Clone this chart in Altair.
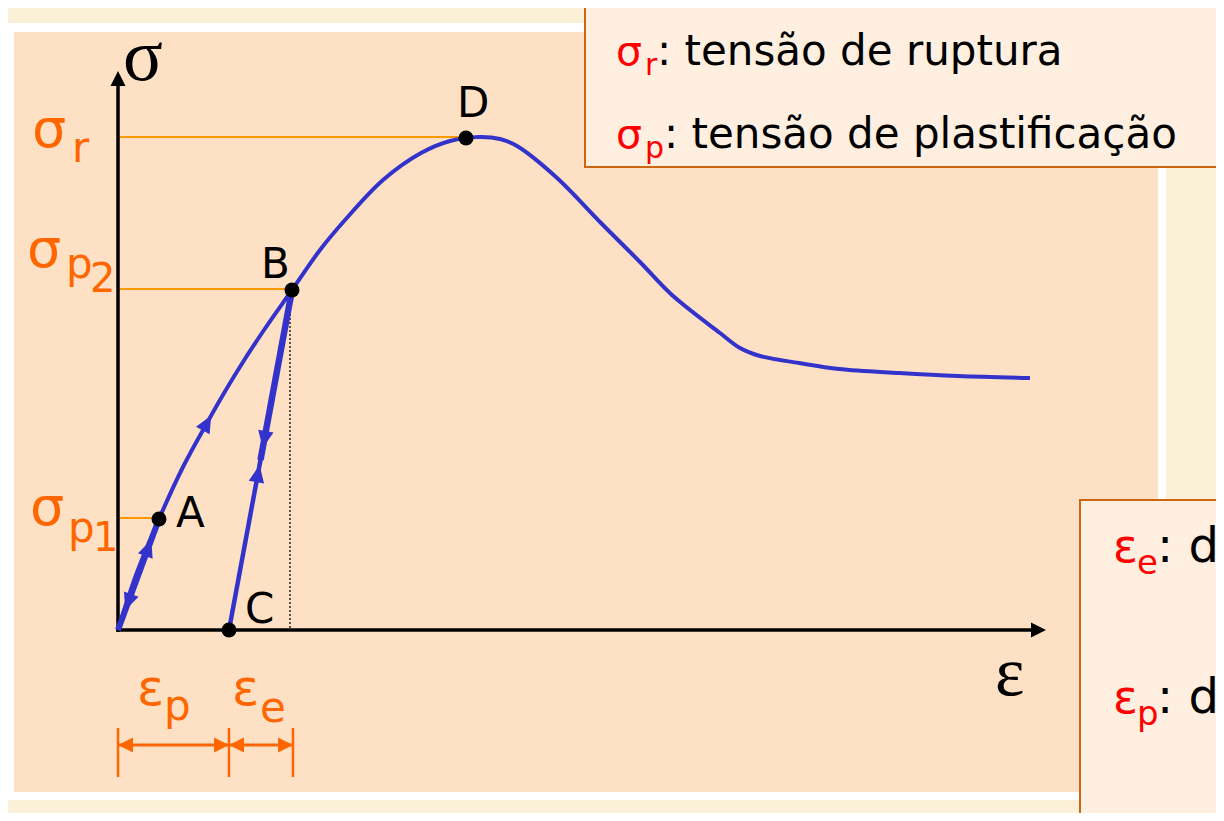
import math
import altair as alt
import pandas as pd

# ---------------- values (diagram units: strain ε, stress σ) ----------------
CURVE_EPS = [0.00, 0.18, 0.41, 0.65, 0.89, 1.02, 1.20, 1.46, 1.74, 2.02, 2.27, 2.65,
             3.03, 3.32, 3.61, 3.82, 3.99, 4.38, 4.83, 5.22, 5.54, 6.02, 6.22, 6.42,
             6.81, 7.21, 7.81, 8.40, 9.12]
CURVE_SIG = [0.00, 0.55, 1.11, 1.63, 2.07, 2.30, 2.60, 3.00, 3.40, 3.80, 4.10, 4.50,
             4.77, 4.89, 4.93, 4.91, 4.84, 4.53, 4.07, 3.68, 3.35, 2.97, 2.82, 2.74,
             2.67, 2.61, 2.57, 2.54, 2.52]

POINT_NAMES = ["A", "B", "C", "D"]
POINT_EPS = [0.41, 1.74, 1.11, 3.48]
POINT_SIG = [1.11, 3.40, 0.00, 4.92]

SIGMA_NAMES = ["r", "p2", "p1"]
SIGMA_LEVELS = [4.93, 3.41, 1.12]
SIGMA_MEETS = ["D", "B", "A"]

STRAIN_NAMES = ["p", "e"]
STRAIN_FROM = [0.00, 1.11]
STRAIN_TO = [1.11, 1.75]

EPS_AXIS_END = 9.28
SIG_AXIS_END = 5.59

TOP_SYMBOLS = ["σ", "σ"]
TOP_SUBS = ["r", "p"]
TOP_TEXTS = [": tensão de ruptura", ": tensão de plastificação"]
BOT_SYMBOLS = ["ε", "ε"]
BOT_SUBS = ["e", "p"]
BOT_TEXTS = [": deformação elástica", ": deformação plástica"]

OA_ARROWS = [(0.25, "down"), (0.74, "up")]      # fraction from O toward A
BC_ARROWS = [(0.56, "down"), (0.46, "up")]      # fraction from C toward B
AB_ARROW_INDEX = 4

# ---------------- layout / style ----------------
W, H = 1208, 805
X_DOM = [-1.10, 10.98]
Y_DOM = [-1.83, 6.22]
PX = (X_DOM[1] - X_DOM[0]) / W
PY = (Y_DOM[1] - Y_DOM[0]) / H

BLUE = "#3333CC"
ORANGE = "#FF6600"
GUIDE = "#FF9900"
RED = "#FF0000"
BORDER = "#CC6611"
SANS = "DejaVu Sans"
SERIF = "Liberation Serif"

xs = alt.Scale(domain=X_DOM, nice=False, zero=False)
ys = alt.Scale(domain=Y_DOM, nice=False, zero=False)


def at(e, s, dx=0.0, dy=0.0):
    return e + dx * PX, s - dy * PY


def page(px, py):
    return X_DOM[0] + (px - 8) * PX, Y_DOM[1] - (py - 8) * PY


def lerp(p, q, t):
    return (p[0] + (q[0] - p[0]) * t, p[1] + (q[1] - p[1]) * t)


def heading(p, q):
    return math.degrees(math.atan2((q[0] - p[0]) / PX, (q[1] - p[1]) / PY)) % 360


P = {n: (e, s) for n, e, s in zip(POINT_NAMES, POINT_EPS, POINT_SIG)}
O = (0.0, 0.0)
X = alt.X("x:Q", scale=xs, axis=None)
Y = alt.Y("y:Q", scale=ys, axis=None)

# ---- frames ----
def rect_row(p1, p2, fill):
    (x1, y1), (x2, y2) = page(*p1), page(*p2)
    return dict(x=x1, x2=x2, y=y1, y2=y2, fill=fill)

frames = pd.DataFrame([
    rect_row((6, 23), (1166, 800), "#FFFFFF"),
    rect_row((14, 32), (1158, 792), "#FEE1C4"),
])
boxes = pd.DataFrame([
    rect_row((585, 7), (1260, 167), "#FEEFE0"),
    rect_row((1080, 500), (1260, 860), "#FEEFE0"),
])
frame_layer = alt.Chart(frames).mark_rect().encode(
    x=X, x2="x2:Q", y=Y, y2="y2:Q", fill=alt.Fill("fill:N", scale=None))
box_layer = alt.Chart(boxes).mark_rect(stroke=BORDER, strokeWidth=2, clip=True).encode(
    x=X, x2="x2:Q", y=Y, y2="y2:Q", fill=alt.Fill("fill:N", scale=None))

# ---- straight segments ----
rules = []
for name, lvl, meet in zip(SIGMA_NAMES, SIGMA_LEVELS, SIGMA_MEETS):
    rules.append(dict(x=0.0, x2=P[meet][0], y=lvl, y2=lvl, c=GUIDE, w=2))
dim_y = at(0, 0, 0, 115)[1]
tick_top = at(0, 0, 0, 98)[1]
tick_bot = at(0, 0, 0, 147)[1]
for a, b in zip(STRAIN_FROM, STRAIN_TO):
    rules.append(dict(x=a, x2=b, y=dim_y, y2=dim_y, c=ORANGE, w=3))
for v in sorted(set(STRAIN_FROM + STRAIN_TO)):
    rules.append(dict(x=v, x2=v, y=tick_top, y2=tick_bot, c=ORANGE, w=2.5))
rules_df = pd.DataFrame(rules)
rule_layer = alt.Chart(rules_df).mark_rule().encode(
    x=X, x2="x2:Q", y=Y, y2="y2:Q",
    color=alt.Color("c:N", scale=None), strokeWidth=alt.StrokeWidth("w:Q", scale=None))

axes_df = pd.DataFrame([
    dict(x=0.0, x2=0.0, y=0.0, y2=at(0, SIG_AXIS_END, 0, 15)[1]),
    dict(x=0.0, x2=at(EPS_AXIS_END, 0, -14, 0)[0], y=0.0, y2=0.0),
])
axes_layer = alt.Chart(axes_df).mark_rule(color="black", strokeWidth=3.5, strokeCap="square").encode(
    x=X, x2="x2:Q", y=Y, y2="y2:Q")

dotted_df = pd.DataFrame([dict(x=P["B"][0] - 0.02, x2=P["B"][0] - 0.02, y=P["B"][1], y2=0.0)])
dotted_layer = alt.Chart(dotted_df).mark_rule(color="black", strokeWidth=1.3, strokeDash=[2, 2]).encode(
    x=X, x2="x2:Q", y=Y, y2="y2:Q")

# ---- curves ----
curve_df = pd.DataFrame({"x": CURVE_EPS, "y": CURVE_SIG})
curve_layer = alt.Chart(curve_df).mark_line(
    color=BLUE, strokeWidth=4, interpolate="catmull-rom").encode(x=X, y=Y)

bc_mid = lerp(P["C"], P["B"], 0.50)
blue_df = pd.DataFrame([
    dict(x=P["B"][0], x2=P["C"][0], y=P["B"][1], y2=P["C"][1], w=4.5),
    dict(x=P["B"][0], x2=bc_mid[0], y=P["B"][1], y2=bc_mid[1], w=6.5),
    dict(x=O[0], x2=P["A"][0], y=O[1], y2=P["A"][1], w=6.0),
])
blue_layer = alt.Chart(blue_df).mark_rule(color=BLUE).encode(
    x=X, x2="x2:Q", y=Y, y2="y2:Q", strokeWidth=alt.StrokeWidth("w:Q", scale=None))

# ---- arrowheads on the paths ----
arrows = []
for t, d in OA_ARROWS:
    pos = lerp(O, P["A"], t)
    ang = heading(P["A"], O) if d == "down" else heading(O, P["A"])
    arrows.append(dict(x=pos[0], y=pos[1], angle=ang))
for t, d in BC_ARROWS:
    pos = lerp(P["C"], P["B"], t)
    ang = heading(P["B"], P["C"]) if d == "down" else heading(P["C"], P["B"])
    arrows.append(dict(x=pos[0], y=pos[1], angle=ang))
i = AB_ARROW_INDEX
arrows.append(dict(x=CURVE_EPS[i], y=CURVE_SIG[i],
                   angle=heading((CURVE_EPS[i - 1], CURVE_SIG[i - 1]), (CURVE_EPS[i + 1], CURVE_SIG[i + 1]))))
arrow_layer = alt.Chart(pd.DataFrame(arrows)).mark_point(
    shape="M0,-1L0.9,1L-0.9,1Z", filled=True, size=300, color=BLUE, opacity=1, strokeWidth=0
).encode(x=X, y=Y, angle=alt.Angle("angle:Q", scale=None))

# tip-anchored arrowheads (axes and dimension lines)
tips = [
    dict(x=0.0, y=SIG_AXIS_END, angle=0, c="black"),
    dict(x=EPS_AXIS_END, y=0.0, angle=90, c="black"),
]
for a, b in zip(STRAIN_FROM, STRAIN_TO):
    tips.append(dict(x=a, y=dim_y, angle=270, c=ORANGE))
    tips.append(dict(x=b, y=dim_y, angle=90, c=ORANGE))
tip_layer = alt.Chart(pd.DataFrame(tips)).mark_point(
    shape="M0,0L1,2L-1,2Z", filled=True, size=225, opacity=1, strokeWidth=0
).encode(x=X, y=Y, angle=alt.Angle("angle:Q", scale=None), color=alt.Color("c:N", scale=None))

# ---- points ----
pts_df = pd.DataFrame({"x": POINT_EPS, "y": POINT_SIG, "name": POINT_NAMES})
pts_layer = alt.Chart(pts_df).mark_circle(size=225, color="black", opacity=1).encode(x=X, y=Y)

# ---- texts ----
sans, serif, legend = [], [], []

def add(rows, e, s, dx, dy, text, size, color):
    x, y = at(e, s, dx, dy)
    rows.append(dict(x=x, y=y, text=text, size=size, color=color))

POINT_LABEL_OFFSET = {"A": (17, 8), "B": (-31, -12), "C": (16, -7), "D": (-9, -21)}
for n in POINT_NAMES:
    dx, dy = POINT_LABEL_OFFSET[n]
    add(sans, P[n][0], P[n][1], dx, dy, n, 42, "black")

SIGMA_LABEL_LAYOUT = {
    "r": [(-86, 10, "σ", 54), (-46, 25, "r", 42)],
    "p2": [(-91, -22, "σ", 54), (-52, -11, "p", 42), (-28, 3, "2", 40)],
    "p1": [(-88, 7, "σ", 54), (-50, 24, "p", 42), (-25, 33, "1", 40)],
}
for name, lvl in zip(SIGMA_NAMES, SIGMA_LEVELS):
    for dx, dy, t, sz in SIGMA_LABEL_LAYOUT[name]:
        add(sans, 0.0, lvl, dx, dy, t, sz, ORANGE)

STRAIN_LABEL_LAYOUT = {"p": [(19, 75, "ε", 50), (46, 90, "p", 42)],
                       "e": [(3, 75, "ε", 50), (31, 92, "e", 42)]}
for name, a in zip(STRAIN_NAMES, STRAIN_FROM):
    for dx, dy, t, sz in STRAIN_LABEL_LAYOUT[name]:
        add(sans, a, 0.0, dx, dy, t, sz, ORANGE)

add(serif, 0.0, SIG_AXIS_END, 5, 9, "σ", 74, "black")
add(serif, EPS_AXIS_END, 0.0, -51, 65, "ε", 70, "black")

tb = page(585, 7)
TOP_TEXT_DX = [72, 79]
for k, (sym, sub, txt) in enumerate(zip(TOP_SYMBOLS, TOP_SUBS, TOP_TEXTS)):
    base = 58 + 83 * k
    add(legend, tb[0], tb[1], 31, base, sym, 41, RED)
    add(legend, tb[0], tb[1], 60, base + 10, sub, 30, RED)
    add(legend, tb[0], tb[1], TOP_TEXT_DX[k], base, txt, 42, "black")
bb = page(1080, 500)
for k, (sym, sub, txt) in enumerate(zip(BOT_SYMBOLS, BOT_SUBS, BOT_TEXTS)):
    base = 62 + 151 * k
    add(legend, bb[0], bb[1], 33, base, sym, 46, RED)
    add(legend, bb[0], bb[1], 57, base + 12, sub, 34, RED)
    add(legend, bb[0], bb[1], 77, base, txt, 48, "black")


def text_layer(rows, font, clip=False):
    return alt.Chart(pd.DataFrame(rows)).mark_text(
        font=font, align="left", baseline="alphabetic", clip=clip
    ).encode(x=X, y=Y, text="text:N",
             size=alt.Size("size:Q", scale=None), color=alt.Color("color:N", scale=None))


chart = alt.layer(
    frame_layer, box_layer, rule_layer, dotted_layer, axes_layer, tip_layer,
    curve_layer, blue_layer, arrow_layer, pts_layer,
    text_layer(sans, SANS), text_layer(serif, SERIF), text_layer(legend, SANS, clip=True),
).properties(
    width=W, height=H, background="#FBF1D8", padding=0,
    autosize=alt.AutoSizeParams(type="none"),
).configure_view(stroke=None)

chart.save("out.html", embed_options={"renderer": "svg", "actions": False})
